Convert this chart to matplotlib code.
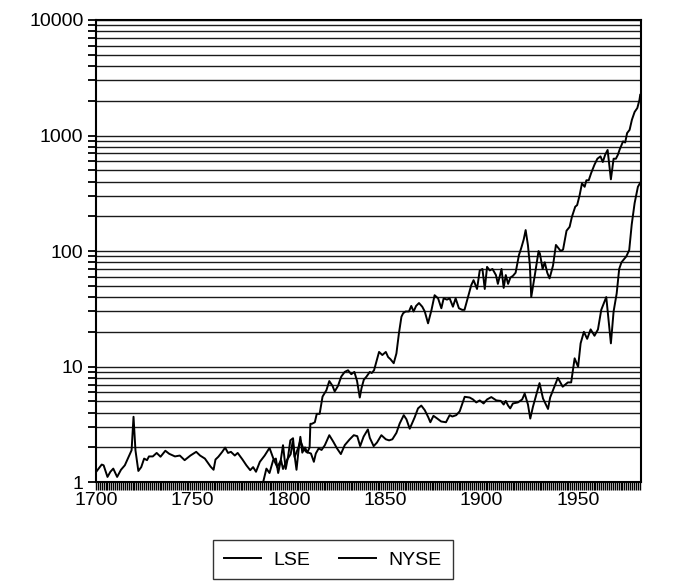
import matplotlib
matplotlib.use('Agg')
import matplotlib.pyplot as plt
from matplotlib.ticker import MultipleLocator, LogLocator, NullFormatter, FuncFormatter

plt.rcParams['font.family'] = ['Liberation Sans', 'DejaVu Sans']

# LSE index
lse_year = [1700, 1703, 1704, 1706, 1707.5, 1709, 1711, 1713, 1715, 1717, 1718.5, 1719.5, 1720.5,
            1722, 1723.5, 1725, 1726.5, 1727.5, 1729.5, 1731.5, 1733.5, 1736, 1738, 1741, 1743.5,
            1746, 1749, 1752, 1754, 1756.5, 1759.5, 1761, 1762, 1763.5, 1765.5, 1767, 1768.5, 1770,
            1772, 1773.5, 1776, 1778, 1780, 1781.5, 1783, 1785, 1787.5, 1790, 1792, 1794, 1796,
            1797, 1799, 1801, 1802, 1803, 1805, 1806, 1807.5, 1809, 1811.5, 1813, 1814, 1815.5,
            1817, 1818.7, 1821, 1823, 1825, 1827, 1829, 1831.5, 1833.7, 1835.5, 1837, 1838.8,
            1841, 1842, 1844, 1845.7, 1848, 1850.3, 1852, 1853.7, 1855.8, 1857.5, 1859.6, 1861,
            1862.7, 1865.3, 1867, 1868.7, 1870.5, 1872.3, 1873.4, 1875, 1877, 1879, 1881.5, 1883.4,
            1884.8, 1886.8, 1888.6, 1891.2, 1893.8, 1895.5, 1897.2, 1899, 1901, 1902.8, 1905,
            1907.6, 1909.9, 1911.4, 1912.5, 1913.7, 1914.8, 1916.2, 1918.8, 1921, 1922.3, 1924,
            1925.2, 1926.6, 1928.3, 1930, 1931.8, 1934.4, 1935.5, 1937, 1939.5, 1942, 1944.7,
            1946.4, 1948.2, 1950, 1951.3, 1953, 1954.7, 1956.5, 1958.5, 1960.3, 1962, 1964.6,
            1967, 1968.4, 1970, 1971.3, 1972.5, 1974, 1975, 1976.5, 1977.8, 1979.3, 1981, 1982.2]
lse_val = [1.22, 1.42, 1.40, 1.11, 1.23, 1.31, 1.11, 1.28, 1.40, 1.66, 1.89, 3.68, 1.89,
           1.25, 1.35, 1.60, 1.55, 1.67, 1.67, 1.79, 1.66, 1.87, 1.76, 1.67, 1.70,
           1.55, 1.70, 1.83, 1.70, 1.60, 1.36, 1.28, 1.57, 1.66, 1.83, 1.99, 1.79, 1.83,
           1.70, 1.79, 1.57, 1.40, 1.27, 1.35, 1.23, 1.50, 1.70, 1.98, 1.60, 1.35, 1.55,
           1.30, 1.55, 1.75, 2.25, 1.65, 2.0, 2.3, 1.96, 1.83, 1.77, 1.50, 1.77, 1.96,
           1.90, 2.09, 2.55, 2.25, 1.96, 1.75, 2.09, 2.34, 2.55, 2.50, 2.05, 2.48,
           2.86, 2.42, 2.05, 2.20, 2.55, 2.35, 2.30, 2.35, 2.67, 3.22, 3.80, 3.50,
           2.90, 3.65, 4.35, 4.60, 4.20, 3.65, 3.30, 3.75, 3.55, 3.35, 3.30, 3.80,
           3.70, 3.80, 4.10, 5.48, 5.40, 5.20, 4.90, 5.10, 4.80, 5.20, 5.45,
           5.10, 5.05, 4.70, 5.05, 4.60, 4.35, 4.80, 4.90, 5.20, 5.85, 4.70,
           3.55, 4.50, 5.70, 7.20, 5.30, 4.30, 5.40, 6.25, 8.0, 6.7, 7.3,
           7.3, 11.8, 9.96, 15.9, 20, 17.4, 21, 18.5, 21, 31, 40,
           15.9, 30, 43, 70, 80, 86, 90, 102, 170, 260, 360, 390]

# NYSE index
nyse_year = [1786.7, 1788.4, 1790, 1791.9, 1793.3, 1794.5, 1795.7, 1797, 1798.4, 1799.6, 1800.8,
             1802.2, 1803, 1804, 1805, 1806, 1807, 1808.4, 1809.6, 1810.8, 1811.2, 1812, 1813.5,
             1814.5, 1816, 1817.5, 1819.5, 1821, 1822.7, 1823.8, 1825.5, 1827.2, 1829, 1830.7,
             1832.4, 1834, 1835.4, 1836.8, 1837.7, 1838.9, 1840.3, 1842, 1843, 1844.2, 1845.4,
             1846.8, 1848.5, 1850.3, 1851.5, 1852.7, 1854.4, 1855.8, 1857.1, 1858.4, 1859.3,
             1860.6, 1862.3, 1863.5, 1864.7, 1866, 1867.5, 1869.2, 1870.5, 1872.2, 1874, 1875.6,
             1877.4, 1879.1, 1880.3, 1882, 1883.4, 1885.1, 1886.5, 1888.2, 1889.9, 1891.1, 1892.9,
             1894.6, 1895.8, 1897.6, 1899, 1900.4, 1901.6, 1902.8, 1904.2, 1905.6, 1907.4, 1908.4,
             1910.3, 1911.4, 1912.5, 1913.7, 1914.9, 1916.2, 1917.6, 1919.3, 1920.5, 1921.8,
             1922.8, 1924, 1925, 1925.7, 1927.5, 1929.5, 1930.2, 1931.6, 1932.7, 1934, 1935.2,
             1937, 1938.5, 1941, 1942.2, 1944, 1945.6, 1946.8, 1948.5, 1949.5, 1950.8, 1952,
             1953.4, 1954.3, 1955.5, 1956.8, 1958.5, 1960, 1961.6, 1962.8, 1964, 1965.3, 1967,
             1968.4, 1969.6, 1970.6, 1971.6, 1973.3, 1974.4, 1975.4, 1976.7, 1977.9, 1979.3,
             1980.7, 1981.8, 1982.2]
nyse_val = [1.0, 1.31, 1.20, 1.55, 1.60, 1.20, 1.50, 2.09, 1.30, 1.65, 2.30,
            2.40, 1.70, 1.28, 1.85, 2.47, 1.80, 2.00, 1.80, 2.0, 3.2, 3.2, 3.3,
            3.9, 3.9, 5.5, 6.25, 7.5, 6.8, 6.1, 6.8, 8.2, 9.0, 9.3,
            8.6, 9.0, 7.5, 5.4, 6.5, 7.7, 8.2, 9.0, 8.8, 9.3, 11.0,
            13.4, 12.6, 13.4, 12.1, 11.6, 10.7, 13.0, 19.4, 27, 29,
            30, 30, 33.5, 30, 33.5, 35.5, 33, 30, 23.7, 31, 41.5,
            39, 32, 39, 38, 39, 33, 39, 32, 31, 31, 40,
            50.7, 56, 47, 68, 70, 47, 73, 68, 70, 62, 52,
            70, 48, 62, 52, 59, 61, 65, 92, 106, 126,
            152, 112, 75, 40, 61, 100, 95, 70, 80, 65, 58,
            75, 113, 100, 103, 150, 162, 198, 242, 250, 305, 385,
            360, 410, 410, 475, 560, 630, 660, 590, 680, 750, 418,
            630, 630, 680, 760, 890, 870, 1050, 1120, 1370, 1600,
            1730, 2030, 2250]

fig = plt.figure(figsize=(6.95, 5.88), dpi=100)
ax = fig.add_axes([0.138, 0.180, 0.784, 0.786])

ax.plot(lse_year, lse_val, color='black', linewidth=1.4, label='LSE')
ax.plot(nyse_year, nyse_val, color='black', linewidth=1.4, label='NYSE')

ax.set_yscale('log')
ax.set_ylim(1, 10000)
ax.set_xlim(1700, 1982.5)

ax.yaxis.set_major_locator(LogLocator(base=10, numticks=10))
ax.yaxis.set_minor_locator(LogLocator(base=10, subs=range(2, 10), numticks=20))
ax.yaxis.set_major_formatter(FuncFormatter(lambda v, p: '{:g}'.format(v)))
ax.yaxis.set_minor_formatter(NullFormatter())
ax.grid(True, which='both', axis='y', color='#1a1a1a', linewidth=1.0)

ax.xaxis.set_major_locator(MultipleLocator(50))
ax.xaxis.set_minor_locator(MultipleLocator(1))

ax.tick_params(axis='x', which='both', direction='out', length=6, width=1.0, labelsize=14, pad=1)
ax.tick_params(axis='y', which='major', direction='out', length=6, width=1.3, labelsize=14, pad=3)
ax.tick_params(axis='y', which='minor', direction='out', length=6, width=1.3)
for s in ax.spines.values():
    s.set_linewidth(1.5)

leg = fig.legend(loc='center', bbox_to_anchor=(0.479, 0.048), ncol=2, fontsize=14,
                 frameon=True, fancybox=False, edgecolor='black', handlelength=1.9,
                 handletextpad=0.67, columnspacing=1.45, borderpad=0.55)
leg.get_frame().set_linewidth(1.0)

plt.savefig('out.png', dpi=100)
